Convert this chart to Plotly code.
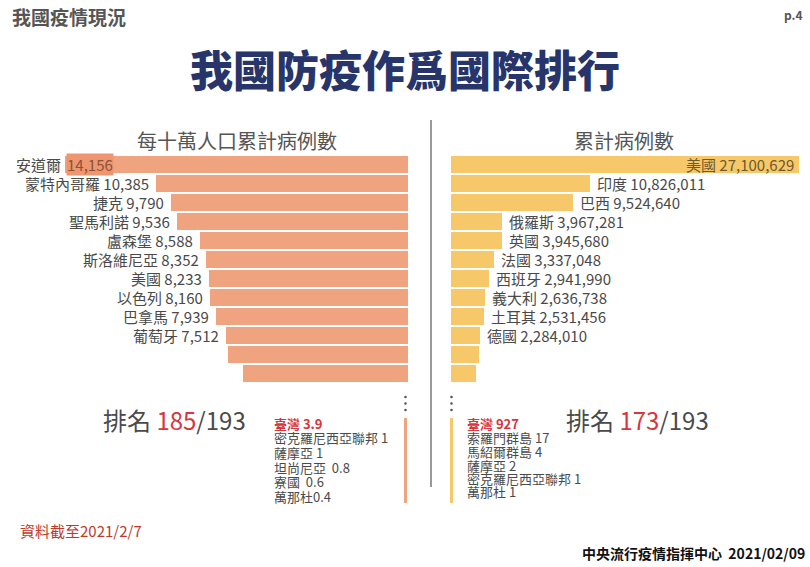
import plotly.graph_objects as go

# -- data ------------------------------------------------------------------
per100k_names = ["安道爾", "蒙特內哥羅", "捷克", "聖馬利諾", "盧森堡", "斯洛維尼亞",
                 "美國", "以色列", "巴拿馬", "葡萄牙", "", ""]
per100k_values = [14156, 10385, 9790, 9536, 8588, 8352, 8233, 8160, 7939, 7512, 7430, 6810]

total_names = ["美國", "印度", "巴西", "俄羅斯", "英國", "法國", "西班牙", "義大利",
               "土耳其", "德國", "", ""]
total_values = [27100629, 10826011, 9524640, 3967281, 3945680, 3337048, 2941990,
                2636738, 2531456, 2284010, 2150000, 1980000]

per100k_tail = ["臺灣 3.9", "密克羅尼西亞聯邦 1", "薩摩亞 1", "坦尚尼亞  0.8", "寮國  0.6", "萬那杜0.4"]
total_tail = ["臺灣 927", "索羅門群島 17", "馬紹爾群島 4", "薩摩亞 2", "密克羅尼西亞聯邦 1", "萬那杜 1"]

rank_per100k, rank_total, n_countries = 185, 173, 193

W, H = 810, 567
FONT = "Noto Sans CJK TC"
ORANGE = "#EFA47F"
YELLOW = "#F6C86A"
RED = "#D8353C"
GREY = "#4a4a4a"
NAVY = "#27356A"


def px(x):
    return x / W


def py(y):
    return 1 - y / H


ranks = list(range(1, len(per100k_values) + 1))

fig = go.Figure()
fig.add_trace(go.Bar(x=per100k_values, y=ranks, orientation="h", xaxis="x", yaxis="y",
                     marker=dict(color=ORANGE, line=dict(width=0)), width=0.86,
                     hoverinfo="skip"))
fig.add_trace(go.Bar(x=total_values, y=ranks, orientation="h", xaxis="x2", yaxis="y2",
                     marker=dict(color=YELLOW, line=dict(width=0)), width=0.86,
                     hoverinfo="skip"))

ann = []
label_font = dict(family=FONT, size=15, color=GREY)

# left chart labels
for r, name, v in zip(ranks, per100k_names, per100k_values):
    if not name:
        continue
    if r == 1:
        ann.append(dict(x=v, y=r, xref="x", yref="y", text=name,
                        xanchor="right", xshift=-2, font=label_font))
        ann.append(dict(x=v, y=r, xref="x", yref="y", text=f"{v:,}",
                        xanchor="left", xshift=1, bgcolor="#EE9670", borderpad=0,
                        font=dict(family=FONT, size=15, color="#8A5238")))
    else:
        ann.append(dict(x=v, y=r, xref="x", yref="y", text=f"{name} {v:,}",
                        xanchor="right", xshift=-5, font=label_font))

# right chart labels
for r, name, v in zip(ranks, total_names, total_values):
    if not name:
        continue
    if r == 1:
        ann.append(dict(x=v, y=r, xref="x2", yref="y2", text=f"{name} {v:,}",
                        xanchor="right", xshift=-3,
                        font=dict(family=FONT, size=15, color="#6E5A2C")))
    else:
        ann.append(dict(x=v, y=r, xref="x2", yref="y2", text=f"{name} {v:,}",
                        xanchor="left", xshift=5, font=label_font))

# headers and titles
ann += [
    dict(x=px(10), y=py(16), text="<b>我國疫情現況</b>", xanchor="left",
         font=dict(family=FONT, size=19, color="#555")),
    dict(x=px(805), y=py(14), text="<b>p.4</b>", xanchor="right",
         font=dict(family=FONT, size=12, color="#555")),
    dict(x=px(405), y=py(68), text="我國防疫作爲國際排行",
         font=dict(family=FONT, size=43, color=NAVY, weight=900)),
    dict(x=px(237), y=py(140), text="每十萬人口累計病例數",
         font=dict(family=FONT, size=20, color="#555")),
    dict(x=px(624), y=py(140), text="累計病例數",
         font=dict(family=FONT, size=20, color="#555")),
    dict(x=px(174), y=py(419),
         text=f"排名 <span style='color:{RED}'>{rank_per100k}</span>/{n_countries}",
         font=dict(family=FONT, size=24, color=GREY)),
    dict(x=px(637), y=py(419),
         text=f"排名 <span style='color:{RED}'>{rank_total}</span>/{n_countries}",
         font=dict(family=FONT, size=24, color=GREY)),
    dict(x=px(18), y=py(530), text="資料截至2021/2/7", xanchor="left",
         font=dict(family=FONT, size=15, color="#C0392B")),
    dict(x=px(807), y=py(553), text="<b>中央流行疫情指揮中心  2021/02/09</b>", xanchor="right",
         font=dict(family=FONT, size=14, color="#111")),
]

left_rows = [423, 437.5, 452, 467, 481.5, 496]
right_rows = [423, 437.5, 451.5, 465, 478, 491]
for i, (t, yy) in enumerate(zip(per100k_tail, left_rows)):
    ann.append(dict(x=px(272), y=py(yy), text=f"<b>{t}</b>" if i == 0 else t, xanchor="left",
                    font=dict(family=FONT, size=13, color=RED if i == 0 else GREY)))
for i, (t, yy) in enumerate(zip(total_tail, right_rows)):
    ann.append(dict(x=px(465), y=py(yy), text=f"<b>{t}</b>" if i == 0 else t, xanchor="left",
                    font=dict(family=FONT, size=13, color=RED if i == 0 else GREY)))

for a in ann:
    if "xref" not in a:
        a.update(xref="paper", yref="paper")
    a.setdefault("xanchor", "center")
    a.update(yanchor="middle", showarrow=False)

# decorations: divider, ellipsis dots, side bars
shapes = [
    dict(type="line", xref="paper", yref="paper", x0=px(431), x1=px(431), y0=py(120), y1=py(487),
         line=dict(color="#777", width=1.5)),
    dict(type="rect", xref="paper", yref="paper", x0=px(404), x1=px(407), y0=py(418), y1=py(503),
         fillcolor=ORANGE, line=dict(width=0)),
    dict(type="rect", xref="paper", yref="paper", x0=px(450), x1=px(453), y0=py(418), y1=py(503),
         fillcolor=YELLOW, line=dict(width=0)),
]
for cx in (405.5, 451.5):
    for cy in (397, 403.5, 410):
        shapes.append(dict(type="circle", xref="paper", yref="paper",
                           x0=px(cx - 1.3), x1=px(cx + 1.3), y0=py(cy + 1.3), y1=py(cy - 1.3),
                           fillcolor="#555", line=dict(width=0)))

axis_off = dict(showgrid=False, zeroline=False, showticklabels=False, showline=False, fixedrange=True)
fig.update_layout(
    width=W, height=H,
    margin=dict(l=0, r=0, t=0, b=0),
    paper_bgcolor="white", plot_bgcolor="white",
    showlegend=False,
    bargap=0,
    xaxis=dict(domain=[0, px(408)], range=[16838, 0], **axis_off),
    xaxis2=dict(domain=[px(451), 1], range=[0, 27957000], **axis_off),
    yaxis=dict(domain=[py(383), py(155)], range=[12.5, 0.5], anchor="x", **axis_off),
    yaxis2=dict(domain=[py(383), py(155)], range=[12.5, 0.5], anchor="x2", **axis_off),
    annotations=ann,
    shapes=shapes,
    font=dict(family=FONT),
)

# drop the browser's default body margin so the figure sits at the window's corner
fig.write_html("out.html", post_script="document.body.style.margin='0';",
               config={"displayModeBar": False})
